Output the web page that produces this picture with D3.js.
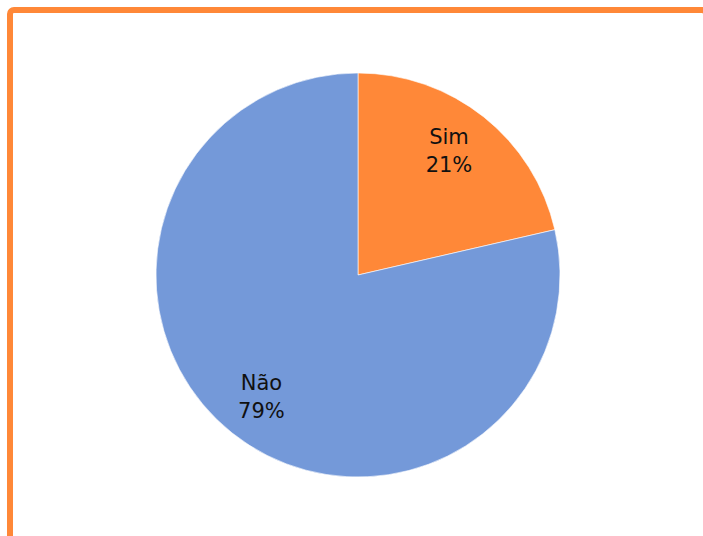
<!DOCTYPE html>
<html>
<head>
<meta charset="utf-8">
<script src="https://cdn.jsdelivr.net/npm/d3@7"></script>
<style>
  html, body { margin: 0; padding: 0; background: #fff; }
  svg text { font-family: "DejaVu Sans", "Noto Sans", sans-serif; }
</style>
</head>
<body>
<div id="chart"></div>
<script>
// slice data
var categories = ["Sim", "Não"];
var values = [21.4, 78.6];
var colors = ["#ff8838", "#7499d9"];

var W = 703, H = 536;
const CX = 358, CY = 275, R = 202,
	FONT = 21, LINE = 28, LABEL_R = 155;

var svg = d3.select("#chart").append("svg")
	.attr("width", W)
	.attr("height", H);

// orange frame, mostly cut off to the right and bottom
svg.append("rect")
	.attr("x", 10).attr("y", 10)
	.attr("width", 696).attr("height", 560)
	.attr("rx", 4)
	.attr("fill", "none")
	.attr("stroke", "#ff8838")
	.attr("stroke-width", 6);

var pie = d3.pie().sort(null).value(function(d){ return d; });
var arcs = pie(values);
var arc = d3.arc().innerRadius(0).outerRadius(R);

var g = svg.append("g").attr("transform", "translate(" + CX + "," + CY + ")");

g.selectAll("path")
	.data(arcs)
	.enter()
	.append("path")
	.attr("d", arc)
	.attr("fill", function(d, i){ return colors[i]; })
	.attr("stroke", "#fff")
	.attr("stroke-width", 0.6);

var labels = g.selectAll("text.lbl")
	.data(arcs)
	.enter()
	.append("text")
	.attr("class", "lbl")
	.attr("text-anchor", "middle")
	.attr("font-size", FONT)
	.attr("fill", "#111")
	.attr("transform", function(d, i){
		var a = (d.startAngle + d.endAngle) / 2;
		if (i == 0) a -= 0.045;
		return "translate(" + (Math.sin(a) * LABEL_R) + "," + (-Math.cos(a) * LABEL_R) + ")";
	});

labels.append("tspan")
	.attr("x", 0).attr("dy", -6)
	.text(function(d, i){ return categories[i]; });
labels.append("tspan")
	.attr("x", 0).attr("dy", LINE)
	.text(function(d){ return Math.round(d.value) + "%"; });
</script>
</body>
</html>
